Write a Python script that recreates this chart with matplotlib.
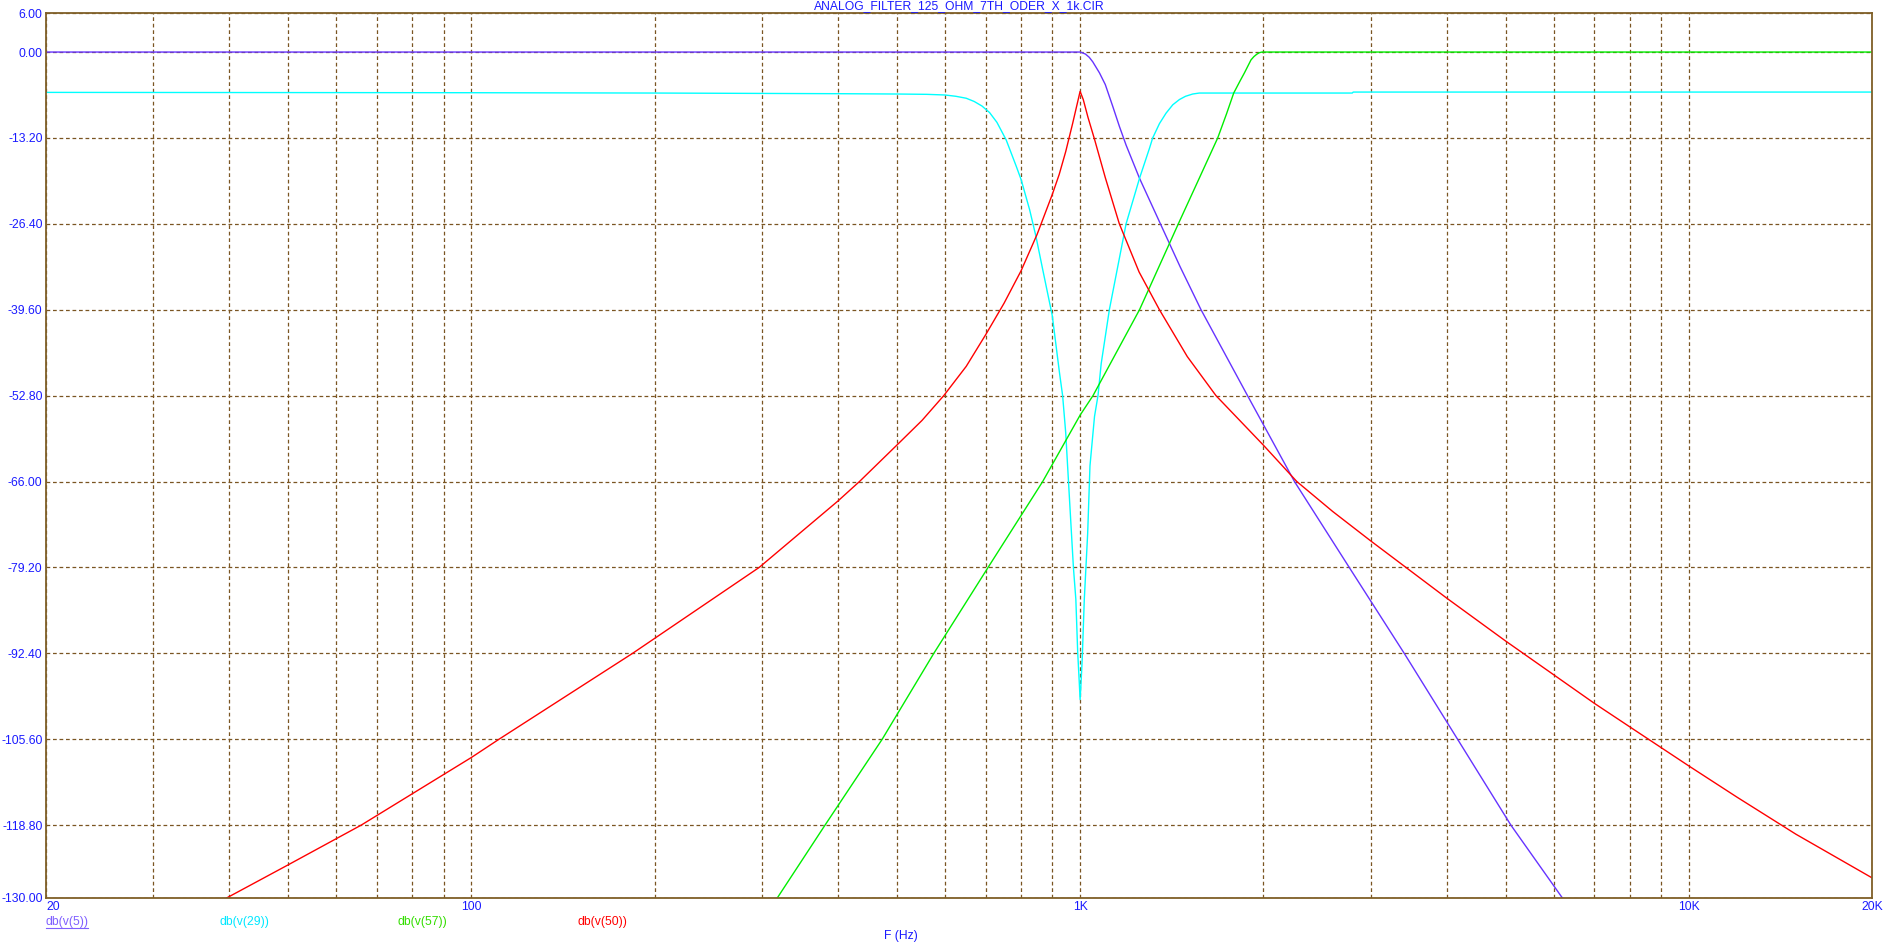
import matplotlib
matplotlib.use("Agg")
from matplotlib import pyplot as plt
from matplotlib.lines import Line2D

W, H = 1896, 948

# db(v(5)) - low pass
freq_v5 = [20, 1000, 1020, 1035, 1049, 1076, 1100, 1131, 1160, 1190, 1252, 1355,
           1460, 1580, 1884, 2250, 2768, 3408, 4170, 5102, 6200]
db_v5 = [0, 0, -0.3, -0.8, -1.5, -3.2, -5.0, -8.3, -11.4, -14.3, -19.4, -26.4,
         -33.0, -39.6, -52.8, -66.0, -79.2, -92.4, -105.6, -118.8, -130.0]

# db(v(29)) - notch
freq_v29 = [20, 100, 200, 400, 500, 560, 600, 625, 650, 670, 690, 710, 730, 756,
            785, 800, 826, 846, 868, 900, 925, 936, 947, 957, 975, 984, 991, 997,
            1000, 1003, 1008, 1016, 1029, 1038, 1056, 1070, 1083, 1117, 1190, 1252,
            1300, 1316, 1350, 1384, 1420, 1456, 1490, 1531, 1570, 2800, 2810, 20000]
db_v29 = [-6.2, -6.25, -6.3, -6.4, -6.45, -6.5, -6.6, -6.8, -7.1, -7.6, -8.3, -9.3,
          -10.8, -13.5, -17.5, -19.6, -24.2, -28.3, -33.4, -40.5, -49.3, -52.8,
          -58.5, -66.0, -79.2, -84.1, -92.3, -97.0, -99.5, -97.4, -93.3, -84.1,
          -74.0, -63.6, -56.0, -52.8, -47.9, -39.6, -26.4, -19.4, -14.8, -13.2,
          -11.0, -9.4, -8.1, -7.3, -6.8, -6.45, -6.3, -6.3, -6.15, -6.15]

# db(v(57)) - high pass
freq_v57 = [318, 381, 473, 575, 706, 868, 1000, 1050, 1252, 1450, 1550, 1683, 1740,
            1788, 1830, 1862, 1909, 1930, 1950, 1970, 1990, 20000]
db_v57 = [-130.0, -118.8, -105.6, -92.4, -79.2, -66.0, -55.8, -52.8, -39.6, -26.4,
          -20.5, -13.2, -9.5, -6.3, -4.5, -3.2, -1.2, -0.7, -0.35, -0.1, 0.0, 0.0]

# db(v(50)) - band pass
freq_v50 = [39.6, 50, 65.9, 100, 111, 184, 297, 400, 434, 500, 550, 597, 650, 700,
            750, 800, 850, 900, 924, 947, 972, 1000, 1012, 1030, 1056, 1100, 1160,
            1250, 1350, 1500, 1672, 2000, 2270, 2600, 3000, 4000, 5000, 6000, 7000,
            8000, 10000, 12000, 15000, 20000]
db_v50 = [-130.0, -124.9, -118.8, -108.4, -105.6, -92.4, -79.2, -69.0, -66.0, -60.4,
          -56.6, -52.8, -48.3, -43.4, -38.6, -33.6, -28.0, -21.9, -18.8, -15.3,
          -11.0, -6.04, -7.3, -10.0, -13.4, -19.3, -26.4, -33.8, -39.6, -46.8,
          -52.8, -60.4, -66.0, -70.6, -75.1, -83.9, -90.5, -95.7, -100.1, -103.7,
          -109.7, -114.5, -120.2, -126.9]

y_ticks = [6.0, 0.0, -13.2, -26.4, -39.6, -52.8, -66.0, -79.2, -92.4, -105.6, -118.8, -130.0]
x_ticks = [20, 100, 1000, 10000, 20000]
x_tick_labels = ["20", "100", "1K", "10K", "20K"]
x_grid = [30, 40, 50, 60, 70, 80, 90, 200, 300, 400, 500, 600, 700, 800, 900,
          2000, 3000, 4000, 5000, 6000, 7000, 8000, 9000]

title = "ANALOG_FILTER_125_OHM_7TH_ODER_X_1k.CIR"
trace_names = ["db(v(5))", "db(v(29))", "db(v(57))", "db(v(50))"]

TXT = "#1a1aff"
FRAME = "#7f5f27"
GRID = "#7a5522"
colors = ["#6633ff", "#00ffff", "#00ee00", "#ff0000"]
label_colors = ["#7f5fff", "#00e8ff", "#33dd00", "#ff0000"]

plt.rcParams['font.family'] = ['Liberation Sans', 'DejaVu Sans']
FS = 8.7


def px(x, y):
  return x / W, 1 - y / H


fig = plt.figure(figsize=(W / 100, H / 100), dpi=100)
left, top = px(46, 13)
right, bottom = px(1872, 898)
ax = fig.add_axes([left, bottom, right - left, top - bottom])

ax.set_xscale("log")
ax.set_xlim(20, 20000)
ax.set_ylim(-130, 6)

ax.set_xticks(x_ticks)
ax.set_xticklabels(x_tick_labels)
ax.set_xticks(x_grid, minor=True)
ax.set_yticks(y_ticks)
ax.set_yticklabels(["%.2f" % v for v in y_ticks])
ax.tick_params(axis="both", which="both", length=0, colors=TXT, labelsize=FS)
ax.tick_params(axis="x", pad=2.5)
ax.tick_params(axis="y", pad=2.5)
ax.get_xticklabels()[0].set_ha("left")

ax.grid(True, which="both", color=GRID, linewidth=0.9, linestyle=(0, (3, 2.2)))
ax.set_axisbelow(True)

for s in ax.spines.values():
  s.set_color(FRAME)
  s.set_linewidth(1.3)

series = [(freq_v5, db_v5), (freq_v29, db_v29), (freq_v57, db_v57), (freq_v50, db_v50)]
for (f, d), c in zip(series, colors):
  ax.plot(f, d, color=c, linewidth=1.0, clip_on=True)

# title
tx, ty = px(959, 6)
fig.text(tx, ty, title, color=TXT, fontsize=FS, ha="center", va="center")

# trace names under the x axis
name_x = [46, 219, 397, 577]
for name, x0, c in zip(trace_names, name_x, label_colors):
  lx, ly = px(x0, 922)
  fig.text(lx, ly, name, color=c, fontsize=FS, ha="left", va="center")
ux0, uy = px(46, 927.5)
ux1, _ = px(88, 927.5)
fig.add_artist(Line2D([ux0, ux1], [uy, uy], color=label_colors[0], linewidth=0.8))

fx, fy = px(884, 936)
fig.text(fx, fy, "F (Hz)", color=TXT, fontsize=FS, ha="left", va="center")

fig.savefig("out.png", dpi=100, facecolor="white")
